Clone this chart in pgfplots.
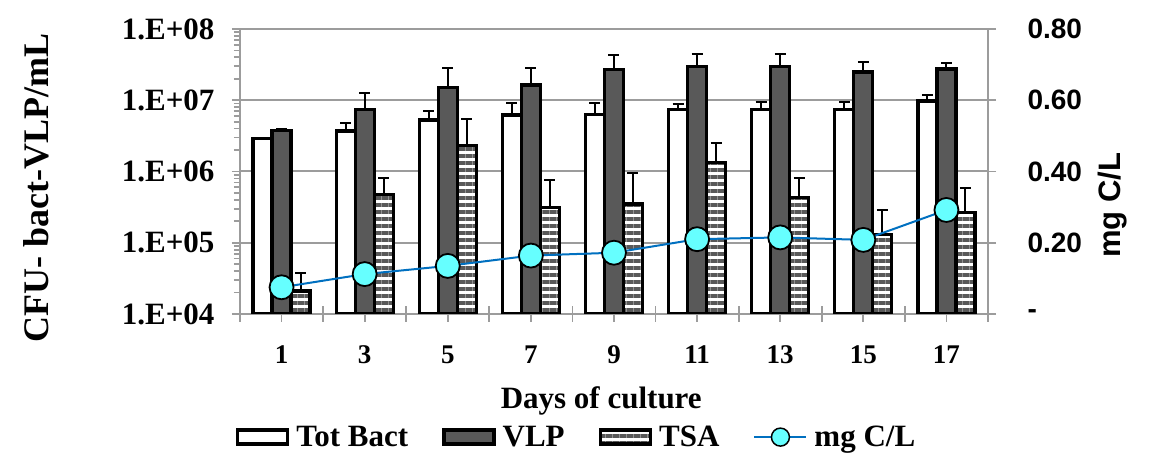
\documentclass[border=0pt]{standalone}
\usepackage{pgfplots}
\pgfplotsset{compat=1.18}
\usepackage{pgfplotstable}
\usepackage{fontspec}
\setmainfont{Liberation Serif}
\setsansfont{Liberation Sans}
\usetikzlibrary{patterns.meta}

\definecolor{vlp}{HTML}{595959}
\definecolor{gridgray}{HTML}{9C9C9C}
\definecolor{lineblue}{HTML}{0070C0}
\definecolor{cyanfill}{HTML}{66FFFF}

\pgfplotstableread{
x tot tote vlp vlpe tsa tsae
1 2.9e6 1.0e5 3.8e6 2.0e5 2.1e4 1.7e4
2 3.7e6 1.1e6 7.5e6 5.3e6 4.8e5 3.2e5
3 5.3e6 1.8e6 1.5e7 1.3e7 2.3e6 3.2e6
4 6.2e6 3.0e6 1.64e7 1.16e7 3.1e5 4.5e5
5 6.3e6 2.9e6 2.7e7 1.6e7 3.5e5 5.9e5
6 7.5e6 1.5e6 2.96e7 1.44e7 1.35e6 1.15e6
7 7.5e6 1.9e6 2.96e7 1.54e7 4.35e5 3.65e5
8 7.5e6 1.9e6 2.5e7 9.0e6 1.31e5 1.59e5
9 9.8e6 2.1e6 2.75e7 5.5e6 2.64e5 3.26e5
}\bars

\pgfplotstableread{
x c
1 0.075
2 0.112
3 0.135
4 0.164
5 0.172
6 0.210
7 0.215
8 0.208
9 0.292
}\carbon

\pgfplotsset{
  barerr/.style={error bars/.cd, y dir=plus, y explicit,
    error bar style={line width=2pt, black},
    error mark options={line width=2pt, black, mark size=5.5pt, rotate=90}},
  boxlegend/.style={legend image code/.code={\draw[##1, line width=3.5pt] (0pt,-7pt) rectangle (50pt,7pt);}},
  linelegend/.style={legend image code/.code={%
    \draw[lineblue, line width=2pt] (0pt,0pt) -- (52pt,0pt);
    \draw[fill=cyanfill, draw=black, line width=1.5pt] (26pt,0pt) circle (9pt);}},
}

\begin{document}
\begin{tikzpicture}
\begin{axis}[name=main, scale only axis, width=748pt, height=285pt,
  xmin=0.5, xmax=9.5, ymode=log, ymin=1e4, ymax=1e8, log origin=infty,
  ybar=0pt, bar width=19pt,
  xtick={1,...,9}, xticklabels={1,3,5,7,9,11,13,15,17},
  extra x ticks={0.5,1.5,...,9.5}, extra x tick labels={},
  extra x tick style={tick align=center, major tick length=16pt},
  ytick={1e4,1e5,1e6,1e7,1e8},
  yticklabels={1.E+04,1.E+05,1.E+06,1.E+07,1.E+08},
  tick pos=left, tick align=outside, major tick length=8pt, minor tick length=6pt,
  every tick/.style={gridgray, line width=1.8pt},
  axis line style={gridgray, line width=2pt},
  ymajorgrids, major grid style={gridgray, line width=2pt},
  yticklabel style={font=\fontsize{31}{31}\selectfont\bfseries, xshift=-14pt},
  xticklabel style={font=\fontsize{27}{27}\selectfont\bfseries, yshift=-20pt},
  xlabel={Days of culture},
  xlabel style={font=\fontsize{31}{31}\selectfont\bfseries, at={(axis description cs:0.483,-0.305)}, anchor=center},
  ylabel={CFU- bact-VLP/mL},
  ylabel style={font=\fontsize{36}{36}\selectfont\bfseries, at={(axis description cs:-0.273,0.442)}, anchor=center, rotate=0},
  legend style={at={(axis description cs:0.45,-0.432)}, anchor=center, draw=none, fill=none,
    font=\fontsize{31}{31}\selectfont\bfseries, legend columns=-1,
    /tikz/every even column/.append style={column sep=32pt},
    /tikz/every odd column/.append style={column sep=5pt}},
  legend cell align=left,
]
\addplot[fill=white, draw=black, line width=3.3pt, boxlegend, barerr] table[x=x, y=tot, y error=tote]{\bars};
\addlegendentry{Tot Bact}
\addplot[fill=vlp, draw=black, line width=3.3pt, boxlegend, barerr] table[x=x, y=vlp, y error=vlpe]{\bars};
\addlegendentry{VLP}
\addplot[preaction={fill=white}, pattern={Lines[angle=0, distance=7pt, line width=4pt]}, pattern color=vlp, draw=black, line width=3.3pt, boxlegend, barerr] table[x=x, y=tsa, y error=tsae]{\bars};
\addlegendentry{TSA}
\addlegendimage{lineblue, linelegend}
\addlegendentry{mg C/L}
\end{axis}
\begin{axis}[scale only axis, width=748pt, height=285pt, at={(main.south west)}, anchor=south west,
  xmin=0.5, xmax=9.5, ymin=0, ymax=0.8,
  axis x line=none, axis y line*=right,
  ytick={0,0.2,0.4,0.6,0.8}, yticklabels={-,0.20,0.40,0.60,0.80},
  tick align=outside, major tick length=8pt,
  every tick/.style={gridgray, line width=1.8pt},
  axis line style={gridgray, line width=2pt, -},
  yticklabel style={font=\sffamily\bfseries\fontsize{28}{28}\selectfont, anchor=west, xshift=28pt},
  ylabel={mg C/L},
  ylabel style={font=\sffamily\bfseries\fontsize{31}{31}\selectfont, at={(axis description cs:1.167,0.382)}, anchor=center, rotate=0},
]
\addplot[lineblue, line width=2pt, mark=*, mark size=12pt, mark options={fill=cyanfill, draw=black, line width=1.8pt}] table[x=x, y=c]{\carbon};
\end{axis}
\pgfresetboundingbox
\path ([xshift=-240pt, yshift=-143pt]main.south west) rectangle ([xshift=915pt, yshift=314pt]main.south west);
\end{tikzpicture}
\end{document}
